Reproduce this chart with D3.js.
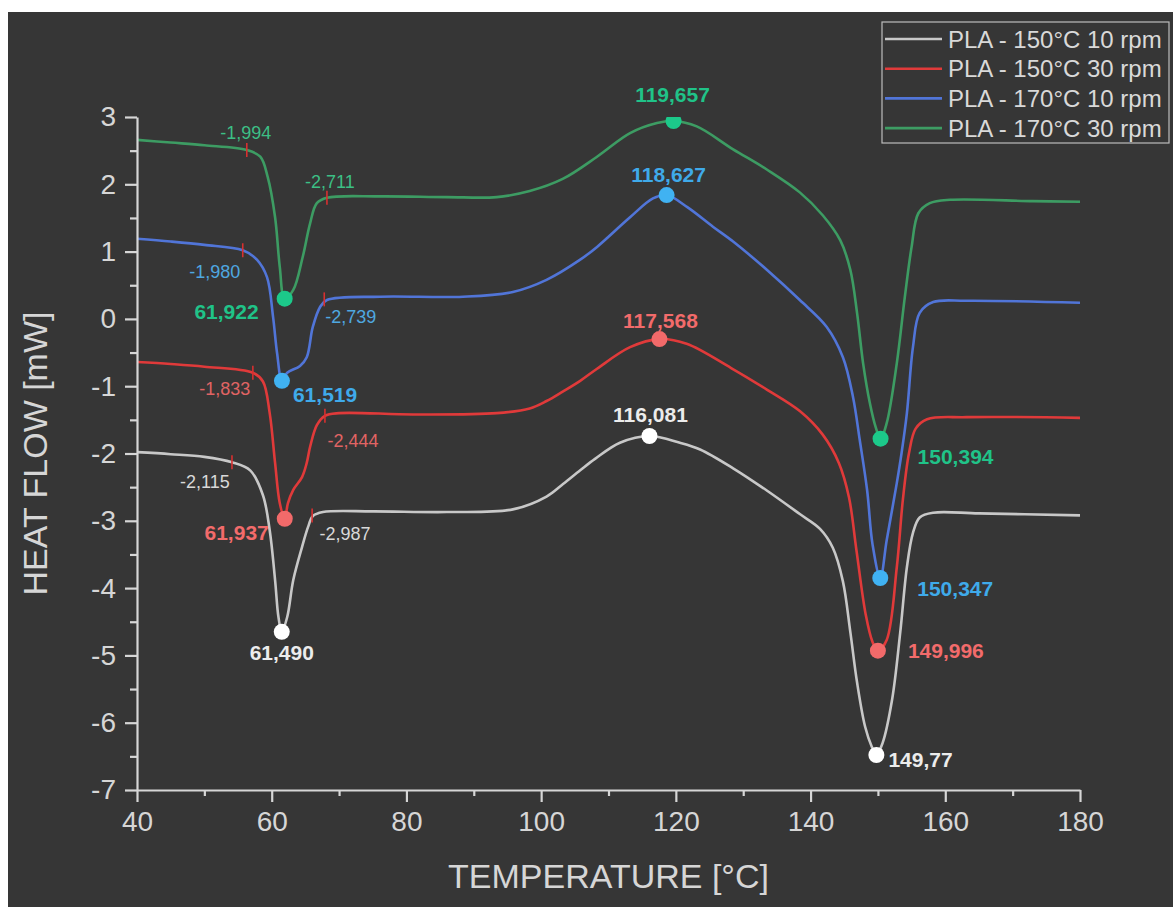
<!DOCTYPE html>
<html>
<head>
<meta charset="utf-8">
<script src="https://cdn.jsdelivr.net/npm/d3@7"></script>
<style>
body{margin:0;background:#fff;}
svg{display:block;}
text{font-family:"Liberation Sans",Arial,sans-serif;}
</style>
</head>
<body>
<script>
// DSC curves, PLA at two temps / two screw speeds
var seriesNames = ["PLA - 150°C 10 rpm","PLA - 150°C 30 rpm","PLA - 170°C 10 rpm","PLA - 170°C 30 rpm"];

var tempGray = [40,45,50,54.1,56.8,58.7,59.7,60.5,61.0,61.49,62.3,63.2,64.5,65.4,66.1,67.6,75,86,95.8,100.8,103.3,105.8,108,111.7,116.08,120.6,123.6,128.5,133.5,138.4,141.4,143.3,144.8,145.9,146.9,148.1,149.1,149.77,150.7,152.1,153.3,154.3,155.2,156.2,158.2,165,180];
var flowGray = [-1.98,-2.01,-2.05,-2.13,-2.25,-2.62,-3.14,-3.88,-4.43,-4.65,-4.43,-3.88,-3.39,-3.09,-2.93,-2.87,-2.86,-2.87,-2.83,-2.64,-2.45,-2.25,-2.08,-1.84,-1.74,-1.84,-1.94,-2.22,-2.55,-2.90,-3.12,-3.40,-3.90,-4.65,-5.40,-6.06,-6.36,-6.48,-6.30,-5.66,-4.67,-3.69,-3.18,-2.95,-2.88,-2.89,-2.92];

var tempRed = [40,45,50,57.2,58.7,59.7,60.5,61.2,61.94,62.4,63.2,64.5,65.2,65.7,66.7,67.9,70,81,93.4,98.3,100.8,103.2,105.8,108.3,113.2,117.57,121.6,128.2,133.5,138.4,141.8,144.2,145.7,146.8,148.2,149.2,150.0,151.3,152.8,153.7,154.6,155.6,157.3,163.2,180];
var flowRed = [-0.64,-0.67,-0.71,-0.80,-0.93,-1.40,-2.14,-2.74,-2.97,-2.74,-2.54,-2.35,-2.14,-1.90,-1.58,-1.44,-1.40,-1.42,-1.40,-1.33,-1.22,-1.08,-0.92,-0.74,-0.42,-0.30,-0.37,-0.73,-1.05,-1.37,-1.72,-2.14,-2.65,-3.43,-4.40,-4.80,-4.93,-4.77,-3.69,-2.69,-2.00,-1.63,-1.49,-1.46,-1.47];

var tempBlue = [40,45,50,55.7,57.8,59.3,60.2,60.8,61.52,62.3,64.2,65.2,66.1,67.2,68.2,76.1,88.4,95.8,100.8,105.8,108.3,113.2,116.6,118.63,121.7,125.5,128.5,133.5,138.4,142.4,144.8,146.3,147.3,148.4,149.2,150.35,151.3,152.8,153.5,154.3,155.2,156.2,158.2,163.2,180];
var flowBlue = [1.19,1.15,1.10,1.02,0.88,0.62,0.03,-0.51,-0.92,-0.80,-0.70,-0.57,-0.12,0.18,0.28,0.33,0.33,0.40,0.58,0.88,1.07,1.51,1.79,1.84,1.66,1.37,1.15,0.73,0.28,-0.12,-0.57,-1.16,-1.80,-2.55,-3.35,-3.85,-3.29,-2.44,-2.00,-1.40,-0.42,0.09,0.25,0.27,0.24];

var tempGreen = [40,45,50,56.3,58.3,59.4,60.5,61.2,61.92,63.2,64.6,65.7,66.7,68.2,76.1,86,93.4,98.3,103.2,108.3,113.2,117.2,119.66,123.1,128.5,133.5,138.4,141.8,144.4,145.9,146.9,147.8,148.8,149.7,150.39,151.3,152.8,154.0,155.0,156.0,157.7,160.7,173,180];
var flowGreen = [2.66,2.62,2.58,2.51,2.41,2.11,1.51,0.77,0.30,0.43,0.92,1.42,1.72,1.80,1.82,1.81,1.81,1.90,2.08,2.41,2.76,2.91,2.94,2.86,2.52,2.22,1.88,1.54,1.17,0.73,0.09,-0.66,-1.25,-1.62,-1.78,-1.55,-0.66,0.33,1.07,1.57,1.72,1.77,1.75,1.74];

// peak markers (gray, red, blue, green)
var glassT = [61.490,61.937,61.519,61.922];
var glassF = [-4.65,-2.97,-0.92,0.30];
var glassLbl = ["61,490","61,937","61,519","61,922"];
var coldT = [116.081,117.568,118.627,119.657];
var coldF = [-1.74,-0.30,1.84,2.94];
var coldLbl = ["116,081","117,568","118,627","119,657"];
var meltT = [149.77,149.996,150.347,150.394];
var meltF = [-6.48,-4.93,-3.85,-1.78];
var meltLbl = ["149,77","149,996","150,347","150,394"];

// onset marks of glass transition step
var onsetAT = [54.1,57.2,55.7,56.3];
var onsetAF = [-2.13,-0.80,1.02,2.51];
var onsetALbl = ["-2,115","-1,833","-1,980","-1,994"];
var onsetBT = [66.0,67.9,67.8,68.2];
var onsetBF = [-2.92,-1.44,0.29,1.80];
var onsetBLbl = ["-2,987","-2,444","-2,739","-2,711"];

var xMajor = [40,60,80,100,120,140,160,180];
var xMinor = [50,70,90,110,130,150,170];
var yMajor = [-7,-6,-5,-4,-3,-2,-1,0,1,2,3];
var yMinor = [-6.5,-5.5,-4.5,-3.5,-2.5,-1.5,-0.5,0.5,1.5,2.5];

// styles
var lineColors = ["#c8c8c8","#e03a3a","#5175d8","#3d9c63"];
var dotColors = ["#ffffff","#f26a6a","#40b2f2","#1cc98a"];
var lblColors = ["#ececec","#f26b6b","#3faaea","#20c388"];
var smallColors = ["#d9d9d9","#e06464","#4fa8e0","#3cbf85"];

// label offsets [dx, dy, anchor]
var glassOff = [[0,21,"middle"],[-16,14,"end"],[11,14,"start"],[-26,13,"end"]];
var coldOff = [[1,-21,"middle"],[1,-18,"middle"],[2,-20,"middle"],[-1,-26,"middle"]];
var meltOff = [[12,5,"start"],[30,0,"start"],[37,11,"start"],[37,18,"start"]];
var onsetAOff = [[-27,19,"middle"],[-28,16,"middle"],[-28,21,"middle"],[-1,-17,"middle"]];
var onsetBOff = [[33,18,"middle"],[28,25,"middle"],[1,17,"start"],[3,-16,"middle"]];

var W = 1173, H = 907;
var margin = {left:137, right:93, top:117, bottom:117};

var x = d3.scaleLinear().domain([40,180]).range([margin.left, W - margin.right]);
var y = d3.scaleLinear().domain([-7,3]).range([H - margin.bottom, margin.top]);

var svg = d3.select("body").append("svg").attr("width",W).attr("height",H);

svg.append("rect").attr("x",8).attr("y",12).attr("width",W-8).attr("height",H-12).attr("fill","#363636");

svg.append("clipPath").attr("id","plotclip").append("rect")
    .attr("x",x(40)).attr("y",y(3)).attr("width",x(180)-x(40)).attr("height",y(-7)-y(3));

var seriesT = [tempGray,tempRed,tempBlue,tempGreen];
var seriesF = [flowGray,flowRed,flowBlue,flowGreen];

var line = d3.line()
    .x(function(d){ return x(d[0]); })
    .y(function(d){ return y(d[1]); })
    .curve(d3.curveCatmullRom.alpha(0.5));

var plot = svg.append("g").attr("clip-path","url(#plotclip)");

seriesT.forEach(function(t,i){
    var pts = t.map(function(v,j){ return [v, seriesF[i][j]]; });
    plot.append("path").attr("d",line(pts))
        .attr("fill","none").attr("stroke",lineColors[i]).attr("stroke-width",2.6);
});

// axes
var axisColor = "#d6d6d6";
function styleAxis(g){
    g.selectAll("path,line").attr("stroke",axisColor).attr("stroke-width",2.2);
    g.selectAll("text").attr("fill",axisColor).attr("font-size",28)
        .attr("font-family","'Liberation Sans',Arial,sans-serif");
}

var xAxisG = svg.append("g").attr("transform","translate(0,"+y(-7)+")")
    .call(d3.axisBottom(x).tickValues(xMajor).tickSize(12).tickSizeOuter(0).tickPadding(9).tickFormat(function(d){ return String(d); }));
svg.append("g").attr("transform","translate(0,"+y(-7)+")")
    .call(d3.axisBottom(x).tickValues(xMinor).tickSize(6).tickSizeOuter(0).tickFormat(""))
    .call(function(g){ g.select(".domain").remove(); }).call(styleAxis);
styleAxis(xAxisG);

var yAxisG = svg.append("g").attr("transform","translate("+x(40)+",0)")
    .call(d3.axisLeft(y).tickValues(yMajor).tickSize(12).tickSizeOuter(0).tickPadding(9).tickFormat(function(d){ return String(d); }));
svg.append("g").attr("transform","translate("+x(40)+",0)")
    .call(d3.axisLeft(y).tickValues(yMinor).tickSize(7).tickSizeOuter(0).tickFormat(""))
    .call(function(g){ g.select(".domain").remove(); }).call(styleAxis);
styleAxis(yAxisG);

svg.append("text").attr("x",(x(40)+x(180))/2).attr("y",888)
    .attr("text-anchor","middle").attr("font-size",34).attr("fill",axisColor)
    .text("TEMPERATURE [°C]");
svg.append("text").attr("transform","translate(47,"+((y(3)+y(-7))/2)+") rotate(-90)")
    .attr("text-anchor","middle").attr("font-size",34).attr("fill",axisColor)
    .text("HEAT FLOW [mW]");

// onset ticks (red) + values
function onsetMarks(T,F,L,off){
    T.forEach(function(t,i){
        svg.append("line").attr("x1",x(t)).attr("x2",x(t))
            .attr("y1",y(F[i])-7).attr("y2",y(F[i])+7)
            .attr("stroke","#d83030").attr("stroke-width",1.6);
        svg.append("text").attr("x",x(t)+off[i][0]).attr("y",y(F[i])+off[i][1])
            .attr("dy","0.35em").attr("text-anchor",off[i][2])
            .attr("font-size",18).attr("fill",smallColors[i]).text(L[i]);
    });
}
onsetMarks(onsetAT,onsetAF,onsetALbl,onsetAOff);
onsetMarks(onsetBT,onsetBF,onsetBLbl,onsetBOff);

// peak dots + values
function peakMarks(T,F,L,off){
    T.forEach(function(t,i){
        plot.append("circle").attr("cx",x(t)).attr("cy",y(F[i])).attr("r",8)
            .attr("fill",dotColors[i]);
        svg.append("text").attr("x",x(t)+off[i][0]).attr("y",y(F[i])+off[i][1])
            .attr("dy","0.35em").attr("text-anchor",off[i][2])
            .attr("font-size",21).attr("font-weight","bold")
            .attr("fill",lblColors[i]).text(L[i]);
    });
}
peakMarks(glassT,glassF,glassLbl,glassOff);
peakMarks(coldT,coldF,coldLbl,coldOff);
peakMarks(meltT,meltF,meltLbl,meltOff);

// legend
var legend = svg.append("g").attr("transform","translate(882,22)");
legend.append("rect").attr("x",0).attr("y",0).attr("width",287).attr("height",121)
    .attr("fill","#363636").attr("stroke","#bdbdbd").attr("stroke-width",1.2);
seriesNames.forEach(function(n,i){
    var ly = 17 + i*29.7;
    legend.append("line").attr("x1",3).attr("x2",60).attr("y1",ly).attr("y2",ly)
        .attr("stroke",lineColors[i]).attr("stroke-width",2.6);
    legend.append("text").attr("x",66).attr("y",ly+8.5)
        .attr("font-size",24).attr("fill","#d9d9d9").text(n);
});
</script>
</body>
</html>
